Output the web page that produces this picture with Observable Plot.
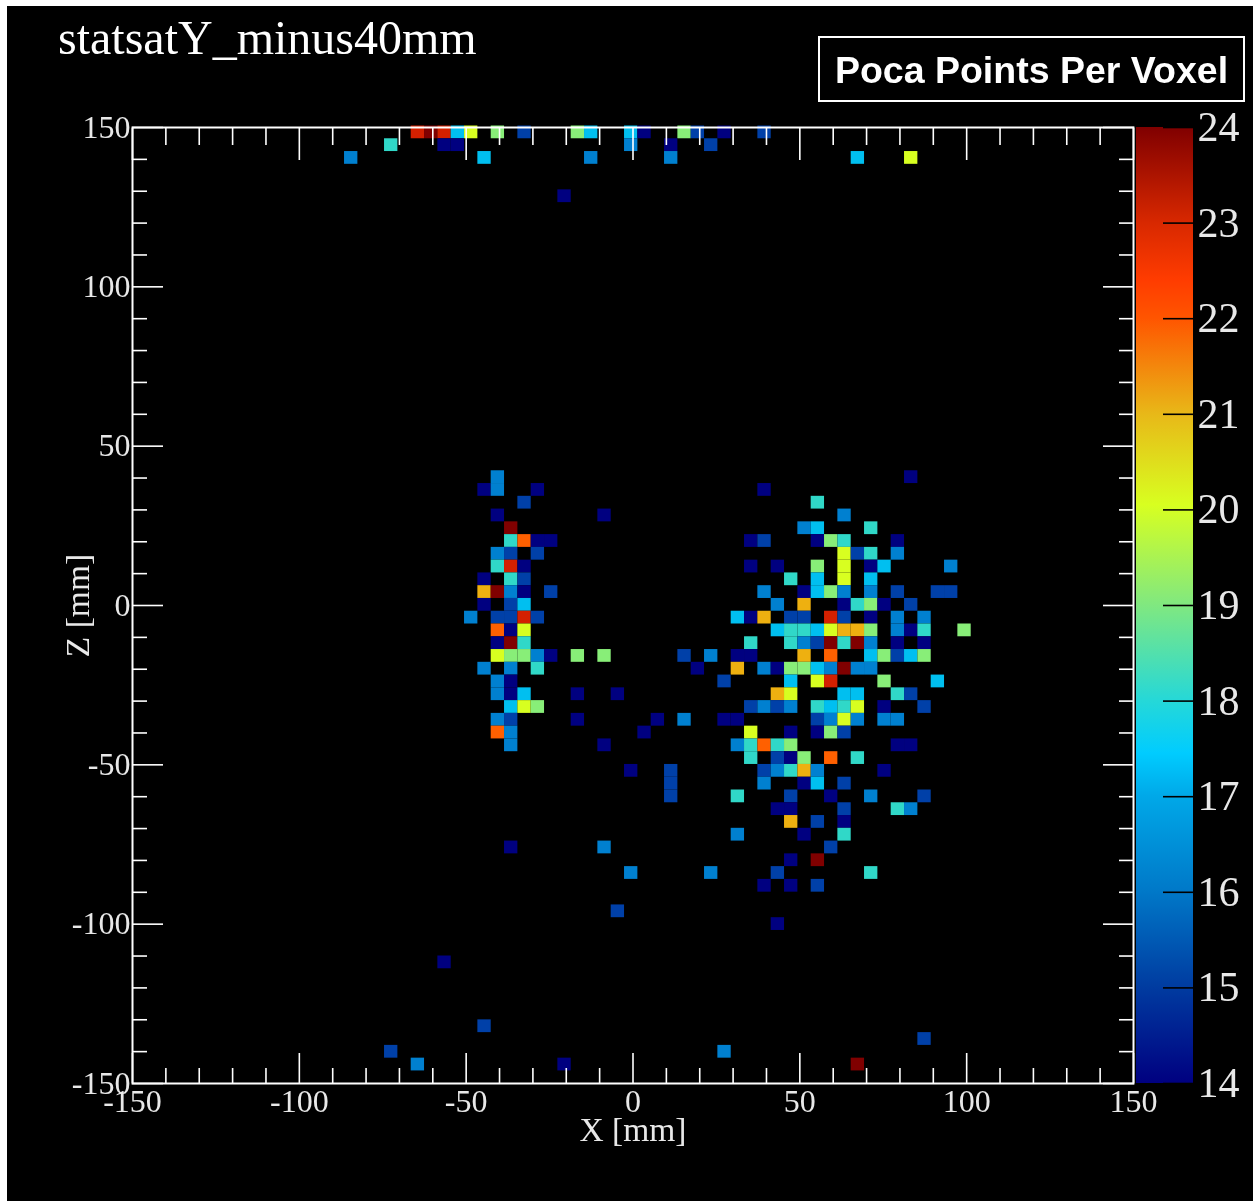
<!DOCTYPE html>
<html>
<head>
<meta charset="utf-8">
<script src="https://cdn.jsdelivr.net/npm/d3@7"></script>
<script src="https://cdn.jsdelivr.net/npm/@observablehq/plot@0.6"></script>
<style>
html,body{margin:0;padding:0;background:#fff;width:1253px;height:1201px;overflow:hidden}
#page{position:absolute;left:7px;top:6px;width:1246px;height:1195px;background:#000;filter:blur(.5px)}
#cellsLayer,#axesLayer,#bar{position:absolute;top:0}
#cellsLayer,#axesLayer{left:0}
#bar{left:1129px}
#title{position:absolute;left:51px;top:6.5px;color:#fff;font:48px "Liberation Serif",serif;white-space:nowrap;line-height:50px}
#legendBox{position:absolute;left:811px;top:30px;width:423px;height:62px;border:2px solid #fff;color:#fff;font:bold 37.5px "Liberation Sans",sans-serif;line-height:64px;text-align:center;white-space:nowrap}
</style>
</head>
<body>
<div id="page">
  <div id="cellsLayer"></div>
  <div id="axesLayer"></div>
  <div id="bar"></div>
  <div id="title"></div>
  <div id="legendBox"></div>
</div>
<script>
const titleText = "statsatY_minus40mm";
const legendText = "Poca Points Per Voxel";
const xTitle = "X [mm]";
const zTitle = "Z [mm]";

const levels = [14,15,16,17,18,19,20,21,22,23,24];
const palette = ["#000080","#0040a8","#0080d0","#00bff0","#30d8c8","#88ee78","#d8ff20","#eeb010","#ff6000","#d42000","#800000"];
const barStops = [14,15,16,17,17.45,18,19,20.05,21,22,22.4,23,24];
const barColors = ["#000080","#003ba0","#0078c8","#00a8e8","#00ccff","#25d8d8","#80e880","#d8ff20","#e8b818","#ff5500","#ff3c00","#d82800","#800000"];
const majorTicks = [-150,-100,-50,0,50,100,150];
const minorTicks = [-140,-130,-120,-110,-90,-80,-70,-60,-40,-30,-20,-10,10,20,30,40,60,70,80,90,110,120,130,140];

// each row: low Z edge of the bin, then pairs of low X edge, count
const r146 = [-66,23,-62,24,-58,23,-54,17,-50,20,-42,19,-34,15,-18,19,-14,17,-2,17,2,14,14,19,18,15,26,14,38,15];
const r142 = [-74,18,-58,14,-54,14,-2,16,10,14,22,15];
const r138 = [-86,16,-46,17,-14,16,10,16,66,17,82,20];
const r126 = [-22,14];
const r38 = [-42,16,82,14];
const r34 = [-46,14,-42,16,-30,14,38,14];
const r30 = [-34,15,54,18];
const r26 = [-42,14,-10,14,62,16];
const r22 = [-38,24,50,16,54,17,70,18];
const r18 = [-38,18,-34,22,-30,14,-26,14,34,14,38,15,54,14,58,19,62,18,78,14];
const r14 = [-42,16,-38,15,-30,15,62,20,66,15,70,18,78,16];
const r10 = [-42,18,-38,23,-34,14,34,14,42,14,54,19,62,20,70,14,74,17,94,16];
const r6 = [-46,14,-38,18,-34,15,46,18,54,17,62,20,70,17];
const r2 = [-46,21,-42,24,-38,16,-34,14,-26,15,38,16,50,14,54,17,58,19,62,16,70,16,78,15,90,15,94,15];
const rm2 = [-46,14,-38,15,-34,17,42,16,50,21,62,14,66,18,70,19,74,14,82,15];
const rm6 = [-50,16,-42,15,-38,15,-34,23,-30,15,30,17,34,14,38,21,46,15,50,15,58,23,62,15,70,14,78,16,86,16];
const rm10 = [-42,22,-38,14,-34,20,42,17,46,18,50,18,54,17,58,20,62,21,66,21,70,19,78,16,82,14,86,18,98,19];
const rm14 = [-42,14,-38,24,-34,18,34,18,46,18,50,16,54,15,58,24,62,18,66,24,70,16,78,14,86,14];
const rm18 = [-42,20,-38,19,-34,19,-30,16,-26,14,-18,19,-10,19,14,15,22,16,30,14,34,14,50,21,58,22,70,17,74,19,78,15,82,17,86,19];
const rm22 = [-46,16,-38,16,-30,18,18,14,30,21,38,16,42,14,46,19,50,19,54,17,58,16,62,24,66,16,70,16];
const rm26 = [-42,16,-38,14,26,15,46,17,54,20,58,23,74,19,90,17];
const rm30 = [-42,16,-38,14,-34,17,-18,14,-6,14,42,21,46,20,62,17,66,17,78,18,82,15];
const rm34 = [-38,17,-34,20,-30,19,34,15,38,16,42,15,46,16,54,18,58,17,62,18,66,20,74,14,86,15];
const rm38 = [-42,16,-38,15,-18,14,6,14,14,16,26,14,30,14,54,15,58,16,62,20,66,16,74,16,78,16];
const rm42 = [-42,22,-38,16,2,14,34,20,46,14,54,14,58,19,62,15];
const rm46 = [-38,16,-10,14,30,16,34,18,38,22,42,18,46,19,78,14,82,14];
const rm50 = [34,18,42,15,46,14,50,19,58,22,66,18];
const rm54 = [-2,14,10,15,38,15,42,16,46,18,50,21,54,16,74,14];
const rm58 = [10,15,38,16,50,14,54,17,62,15];
const rm62 = [10,15,30,18,46,15,58,14,70,16,86,15];
const rm66 = [42,14,46,14,62,15,78,18,82,16];
const rm70 = [46,21,54,15,62,14];
const rm74 = [30,16,50,14,62,18];
const rm78 = [-38,14,-10,16,58,15];
const rm82 = [46,14,54,24];
const rm86 = [-2,16,22,16,42,15,70,18];
const rm90 = [38,14,46,14,54,15];
const rm98 = [-6,15];
const rm102 = [42,14];
const rm114 = [-58,14];
const rm134 = [-46,15];
const rm138 = [86,15];
const rm142 = [-74,15,26,16];
const rm146 = [-66,16,-22,14,66,24];

const rowTable = [[146,r146],[142,r142],[138,r138],[126,r126],[38,r38],[34,r34],[30,r30],[26,r26],[22,r22],[18,r18],[14,r14],[10,r10],[6,r6],[2,r2],[-2,rm2],[-6,rm6],[-10,rm10],[-14,rm14],[-18,rm18],[-22,rm22],[-26,rm26],[-30,rm30],[-34,rm34],[-38,rm38],[-42,rm42],[-46,rm46],[-50,rm50],[-54,rm54],[-58,rm58],[-62,rm62],[-66,rm66],[-70,rm70],[-74,rm74],[-78,rm78],[-82,rm82],[-86,rm86],[-90,rm90],[-98,rm98],[-102,rm102],[-114,rm114],[-134,rm134],[-138,rm138],[-142,rm142],[-146,rm146]];

const binWidth = 4;
const cells = [];
for (const [z, row] of rowTable) {
  for (let i = 0; i < row.length; i += 2) cells.push({x: row[i], z, v: row[i + 1]});
}

const fmt = d => String(d);
const axisStroke = {stroke: "#fff", strokeWidth: 1.6};
const textFill = "#e8e8e8";

// Heat map layer: its frame sits a pixel or two off the axes, as in the picture.
const cellsPlot = Plot.plot({
  width: 1246, height: 1195,
  marginLeft: 123.7, marginRight: 122.3, marginTop: 119.5, marginBottom: 117.8,
  x: {domain: [-150, 150], axis: null},
  y: {domain: [-150, 150], axis: null},
  color: {type: "ordinal", domain: levels, range: palette},
  style: {background: "#000"},
  marks: [
    Plot.rect(cells, {x1: "x", x2: d => d.x + binWidth, y1: "z", y2: d => d.z + binWidth, fill: "v"})
  ]
});
document.getElementById("cellsLayer").appendChild(cellsPlot);

const axesPlot = Plot.plot({
  width: 1246, height: 1195,
  marginLeft: 125, marginRight: 120, marginTop: 121, marginBottom: 118,
  x: {domain: [-150, 150], axis: null},
  y: {domain: [-150, 150], axis: null},
  style: {background: "transparent", color: "#fff", fontFamily: "'Liberation Serif',serif", fontSize: "32px"},
  marks: [
    Plot.axisX({anchor: "bottom", ticks: majorTicks, tickSize: -30, text: null, label: null, ...axisStroke}),
    Plot.axisX({anchor: "bottom", ticks: minorTicks, tickSize: -15, text: null, label: null, ...axisStroke}),
    Plot.axisX({anchor: "top", ticks: majorTicks, tickSize: -32, text: null, label: null, ...axisStroke}),
    Plot.axisX({anchor: "top", ticks: minorTicks, tickSize: -17, text: null, label: null, ...axisStroke}),
    Plot.axisY({anchor: "left", ticks: majorTicks, tickSize: -31, text: null, label: null, ...axisStroke}),
    Plot.axisY({anchor: "left", ticks: minorTicks, tickSize: -15, text: null, label: null, ...axisStroke}),
    Plot.axisY({anchor: "right", ticks: majorTicks, tickSize: -31, text: null, label: null, ...axisStroke}),
    Plot.axisY({anchor: "right", ticks: minorTicks, tickSize: -15, text: null, label: null, ...axisStroke}),
    Plot.frame({stroke: "#fff", strokeWidth: 2}),
    Plot.axisX({anchor: "bottom", ticks: majorTicks, tickSize: 0, tickPadding: 6, tickFormat: fmt, label: null, fill: textFill}),
    Plot.axisY({anchor: "left", ticks: majorTicks, tickSize: 0, tickPadding: 2, tickFormat: fmt, label: null, fill: textFill}),
    Plot.text([xTitle], {frameAnchor: "bottom", dy: 57, fontSize: 33.5, fill: textFill}),
    Plot.text([zTitle], {frameAnchor: "left", dx: -54, rotate: -90, textAnchor: "middle", fontSize: 33.5, fill: textFill})
  ]
});
document.getElementById("axesLayer").appendChild(axesPlot);

const gradient = () => {
  const defs = d3.create("svg:defs");
  const g = defs.append("linearGradient").attr("id", "jetbar").attr("x1", 0).attr("x2", 0).attr("y1", 1).attr("y2", 0);
  barStops.forEach((s, i) => g.append("stop").attr("offset", (s - 14) / 10).attr("stop-color", barColors[i]));
  return defs.node();
};

const bar = Plot.plot({
  width: 117, height: 1195,
  marginLeft: 0, marginRight: 60, marginTop: 121, marginBottom: 118,
  x: {axis: null},
  y: {domain: [14, 24], axis: null},
  style: {background: "transparent", color: "#fff", fontFamily: "'Liberation Serif',serif", fontSize: "42px"},
  marks: [
    gradient,
    Plot.rect([{y1: 14, y2: 24}], {y1: "y1", y2: "y2", fill: "url(#jetbar)"}),
    Plot.axisY({anchor: "right", ticks: levels, tickSize: -31, text: null, label: null, stroke: "#000", strokeWidth: 1.6}),
    Plot.axisY({anchor: "right", ticks: levels, tickSize: 0, tickPadding: 4, tickFormat: fmt, label: null, fill: textFill})
  ]
});
document.getElementById("bar").appendChild(bar);

document.getElementById("title").textContent = titleText;
document.getElementById("legendBox").textContent = legendText;
</script>
</body>
</html>
